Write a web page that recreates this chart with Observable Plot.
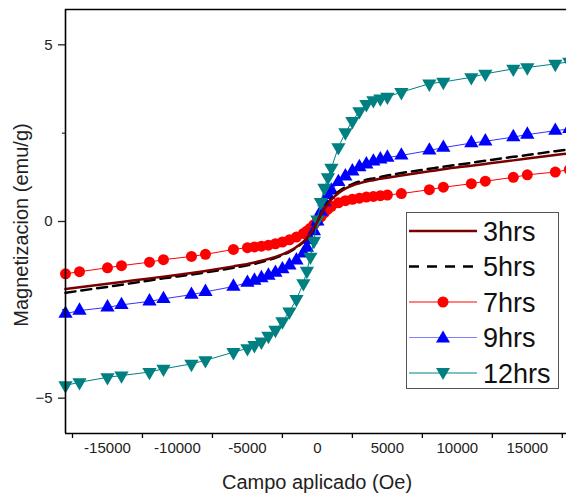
<!DOCTYPE html>
<html>
<head>
<meta charset="utf-8">
<script src="https://cdn.jsdelivr.net/npm/d3@7"></script>
<script src="https://cdn.jsdelivr.net/npm/@observablehq/plot@0.6"></script>
<style>
  html, body { margin: 0; padding: 0; background: #fff; overflow: hidden; }
  #wrap { position: relative; width: 566px; height: 494px; font-family: "Liberation Sans", Arial, sans-serif; }
  .xtitle { position: absolute; left: 317px; top: 482px; transform: translate(-50%, -50%); font-size: 20px; color: #222; white-space: nowrap; }
  .ytitle { position: absolute; left: 21px; top: 225px; transform: translate(-50%, -50%) rotate(-90deg); font-size: 20px; color: #222; white-space: nowrap; }
  #legend { position: absolute; left: 406px; top: 212px; }
</style>
</head>
<body>
<div id="wrap">
  <div id="chart"></div>
  <div class="xtitle">Campo aplicado (Oe)</div>
  <div class="ytitle">Magnetizacion (emu/g)</div>
  <svg id="legend" width="153" height="177"></svg>
</div>
<script>
// ---- data ----
const seriesNames = ["3hrs", "5hrs", "7hrs", "9hrs", "12hrs"];
const fieldOe = [-18000,-17000,-15000,-14000,-12000,-11000,-9000,-8000,-6000,-5000,
  -4500,-4000,-3500,-3000,-2500,-2000,-1500,-1000,-750,-500,-250,
  0,
  250,500,750,1000,1500,2000,2500,3000,3500,4000,4500,
  5000,6000,8000,9000,11000,12000,14000,15000,17000,18000];
const m3hrs = [-1.91,-1.86,-1.76,-1.71,-1.61,-1.56,-1.46,-1.40,-1.27,-1.20,
  -1.16,-1.11,-1.06,-1.00,-0.93,-0.84,-0.72,-0.57,-0.47,-0.34,-0.18,
  0.00,
  0.19,0.36,0.50,0.62,0.80,0.93,1.02,1.08,1.13,1.17,1.21,
  1.24,1.30,1.42,1.48,1.58,1.63,1.73,1.78,1.88,1.93];
const m5hrs = [-2.02,-1.96,-1.85,-1.79,-1.67,-1.61,-1.50,-1.44,-1.31,-1.24,
  -1.20,-1.15,-1.09,-1.03,-0.95,-0.86,-0.74,-0.58,-0.48,-0.35,-0.19,
  0.00,
  0.20,0.38,0.53,0.65,0.84,0.97,1.06,1.13,1.18,1.22,1.26,
  1.30,1.37,1.49,1.55,1.66,1.72,1.83,1.88,1.99,2.04];
const m7hrs = [-1.48,-1.42,-1.31,-1.25,-1.15,-1.08,-0.99,-0.93,-0.79,-0.74,
  -0.72,-0.70,-0.67,-0.63,-0.58,-0.52,-0.44,-0.34,-0.27,-0.19,-0.09,
  0.02,
  0.13,0.25,0.35,0.43,0.53,0.59,0.63,0.66,0.69,0.71,0.73,
  0.75,0.79,0.90,0.97,1.07,1.14,1.25,1.32,1.40,1.47];
const m9hrs = [-2.61,-2.52,-2.43,-2.36,-2.26,-2.19,-2.07,-1.99,-1.84,-1.73,
  -1.67,-1.60,-1.53,-1.45,-1.35,-1.24,-1.10,-0.90,-0.74,-0.52,-0.27,
  0.00,
  0.28,0.55,0.75,0.88,1.12,1.28,1.42,1.54,1.62,1.70,1.76,
  1.81,1.87,2.01,2.09,2.22,2.27,2.39,2.46,2.57,2.62];
const m12hrs = [-4.64,-4.55,-4.41,-4.36,-4.26,-4.17,-4.03,-3.93,-3.70,-3.59,
  -3.50,-3.40,-3.24,-3.07,-2.83,-2.55,-2.20,-1.75,-1.40,-1.00,-0.55,
  0.05,
  0.55,0.95,1.25,1.52,2.10,2.52,2.84,3.12,3.32,3.43,3.48,
  3.53,3.66,3.90,3.95,4.08,4.18,4.32,4.36,4.46,4.52];
const xTickLabels = [-15000,-10000,-5000,0,5000,10000,15000];
const xTickMarks = [-17500,-12500,-7500,-2500,2500,7500,12500,17500];
const yTickLabels = [-5,0,5];
const yMinorTicks = [-2.5,2.5];

// ---- build table ----
const allValues = [m3hrs, m5hrs, m7hrs, m9hrs, m12hrs];
const rows = [];
seriesNames.forEach((s, k) => fieldOe.forEach((h, i) => rows.push({H: h, M: allValues[k][i], s})));
const sel = name => rows.filter(d => d.s === name);

const font = "Liberation Sans, Arial, sans-serif";
const chart = Plot.plot({
  width: 566, height: 494,
  marginLeft: 65, marginRight: 0, marginTop: 9, marginBottom: 61,
  x: {domain: [-18000, 17800]},
  y: {domain: [-6, 6]},
  style: {fontFamily: font, background: "transparent"},
  marks: [
    Plot.axisX(xTickLabels, {tickSize: 0, tickPadding: 9, fontSize: 15, label: null, color: "#222", tickFormat: d => String(d)}),
    Plot.axisX(xTickMarks, {tickSize: 5, tickFormat: () => "", label: null, stroke: "#000", strokeWidth: 1.3}),
    Plot.axisY(yTickLabels, {tickSize: 7, tickPadding: 6, fontSize: 15, label: null, color: "#222", strokeWidth: 1.3}),
    Plot.axisY(yMinorTicks, {tickSize: 3, tickFormat: () => "", label: null, stroke: "#000"}),
    Plot.line(sel("7hrs"), {x: "H", y: "M", stroke: "#ff0000", strokeWidth: 1}),
    Plot.dot(sel("7hrs"), {x: "H", y: "M", fill: "#ff0000", r: 5.5, symbol: "circle"}),
    Plot.line(sel("9hrs"), {x: "H", y: "M", stroke: "#3333ff", strokeWidth: 1}),
    Plot.dot(sel("9hrs"), {x: "H", y: "M", fill: "#0000ff", r: 5.3, symbol: "triangle"}),
    Plot.line(sel("12hrs"), {x: "H", y: "M", stroke: "#008080", strokeWidth: 1}),
    Plot.dot(sel("12hrs"), {x: "H", y: "M", fill: "#008080", r: 5.3, symbol: "triangle", rotate: 180}),
    Plot.line(sel("5hrs"), {x: "H", y: "M", stroke: "#000", strokeWidth: 2.5, strokeDasharray: "10,6", curve: "monotone-x"}),
    Plot.line(sel("3hrs"), {x: "H", y: "M", stroke: "#7a0000", strokeWidth: 2.5, curve: "monotone-x"}),
    Plot.ruleX([-18000], {stroke: "#000", strokeWidth: 1.6}),
    Plot.ruleY([-6, 6], {stroke: "#000", strokeWidth: 1.6})
  ]
});
document.getElementById("chart").appendChild(chart);

// ---- legend ----
const legendStyles = {
  "3hrs": {stroke: "#7a0000", width: 2.5, dash: null, marker: null},
  "5hrs": {stroke: "#000", width: 2.5, dash: "10,8", marker: null},
  "7hrs": {stroke: "#ff0000", width: 1, dash: null, marker: "circle", fill: "#ff0000"},
  "9hrs": {stroke: "#8080ff", width: 1, dash: null, marker: "up", fill: "#0000ff"},
  "12hrs": {stroke: "#008080", width: 1, dash: null, marker: "down", fill: "#008080"}
};
const lg = d3.select("#legend");
lg.append("rect").attr("x", 0.5).attr("y", 0.5).attr("width", 152).attr("height", 176)
  .attr("fill", "#fff").attr("stroke", "#555").attr("stroke-width", 1);
seriesNames.forEach((s, i) => {
  const st = legendStyles[s];
  const cy = 19 + i * 35.5;
  const g = lg.append("g").attr("transform", `translate(0,${cy})`);
  g.append("line").attr("x1", 3).attr("x2", 71).attr("y1", 0).attr("y2", 0)
    .attr("stroke", st.stroke).attr("stroke-width", st.width)
    .attr("stroke-dasharray", st.dash);
  if (st.marker === "circle") g.append("circle").attr("cx", 37).attr("cy", 0).attr("r", 5.5).attr("fill", st.fill);
  if (st.marker === "up") g.append("path").attr("d", "M37,-7L44,5L30,5Z").attr("fill", st.fill);
  if (st.marker === "down") g.append("path").attr("d", "M37,7L44,-5L30,-5Z").attr("fill", st.fill);
  g.append("text").attr("x", 77).attr("y", 9.5).attr("font-size", 27).attr("font-family", font)
    .attr("fill", "#111").text(s);
});
</script>
</body>
</html>
